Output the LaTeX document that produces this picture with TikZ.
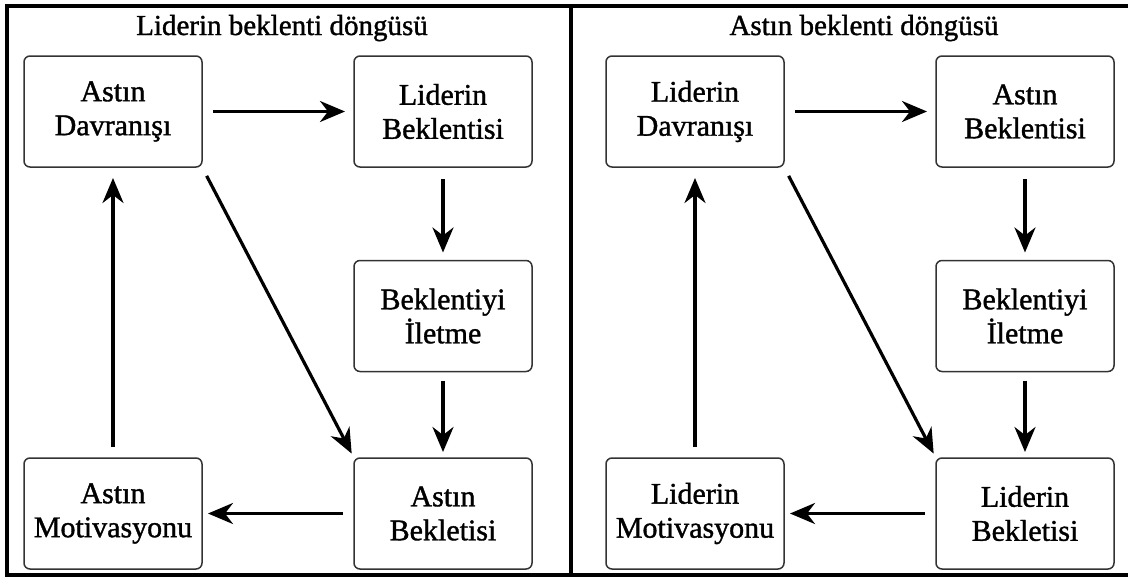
\documentclass[tikz,border=0pt]{standalone}
\usepackage{fontspec}
\setmainfont[FakeBold=1.2]{Liberation Serif}
\usetikzlibrary{arrows.meta}
\begin{document}
\begin{tikzpicture}[x=1pt,y=-1pt,
  stage/.style={draw=black!80, line width=1.5pt, rounded corners=6pt,
    minimum width=178pt, minimum height=111pt, inner sep=0pt, outer sep=0pt,
    align=center, font=\fontsize{30}{34}\selectfont},
  flow/.style={line width=3.2pt, -{Stealth[length=25pt,width=21pt,inset=8pt]}},
  heading/.style={font=\fontsize{29}{34}\selectfont, anchor=base},
  frameline/.style={line width=3.2pt}]
\useasboundingbox (0,0) rectangle (1128,581);
\fill[white] (0,0) rectangle (1128,581);

% outer frame and divider
\draw[frameline] (1132,6) -- (7,6) -- (7,575) -- (1132,575);
\draw[frameline] (571,6) -- (571,575);

% left cycle
\node[heading] (t1) at (282,35) {Liderin beklenti döngüsü};
\node[stage] (a1) at (113,111.5) {Astın\\Davranışı};
\node[stage] (b1) at (443,111.5) {Liderin\\Beklentisi};
\node[stage] (c1) at (443,316) {Beklentiyi\\İletme};
\node[stage] (d1) at (443,513.5) {Astın\\Bekletisi};
\node[stage] (e1) at (113,513.5) {Astın\\Motivasyonu};

\draw[flow, shorten <=11pt, shorten >=9pt] (a1.east) -- (b1.west);
\draw[flow, shorten <=12pt, shorten >=8pt] (b1.south) -- (c1.north);
\draw[flow, shorten <=9pt, shorten >=6pt] (c1.south) -- (d1.north);
\draw[flow, shorten <=11pt, shorten >=6pt] (d1.west) -- (e1.east);
\draw[flow, shorten <=11pt, shorten >=11pt] (e1.north) -- (a1.south);
\draw[flow, shorten <=10pt, shorten >=5pt] (a1.south east) -- (d1.north west);

% right cycle
\node[heading] (t2) at (864,35) {Astın beklenti döngüsü};
\node[stage] (a2) at (695,111.5) {Liderin\\Davranışı};
\node[stage] (b2) at (1025,111.5) {Astın\\Beklentisi};
\node[stage] (c2) at (1025,316) {Beklentiyi\\İletme};
\node[stage] (d2) at (1025,513.5) {Liderin\\Bekletisi};
\node[stage] (e2) at (695,513.5) {Liderin\\Motivasyonu};

\draw[flow, shorten <=11pt, shorten >=9pt] (a2.east) -- (b2.west);
\draw[flow, shorten <=12pt, shorten >=8pt] (b2.south) -- (c2.north);
\draw[flow, shorten <=9pt, shorten >=6pt] (c2.south) -- (d2.north);
\draw[flow, shorten <=11pt, shorten >=6pt] (d2.west) -- (e2.east);
\draw[flow, shorten <=11pt, shorten >=11pt] (e2.north) -- (a2.south);
\draw[flow, shorten <=10pt, shorten >=5pt] (a2.south east) -- (d2.north west);
\end{tikzpicture}
\end{document}
